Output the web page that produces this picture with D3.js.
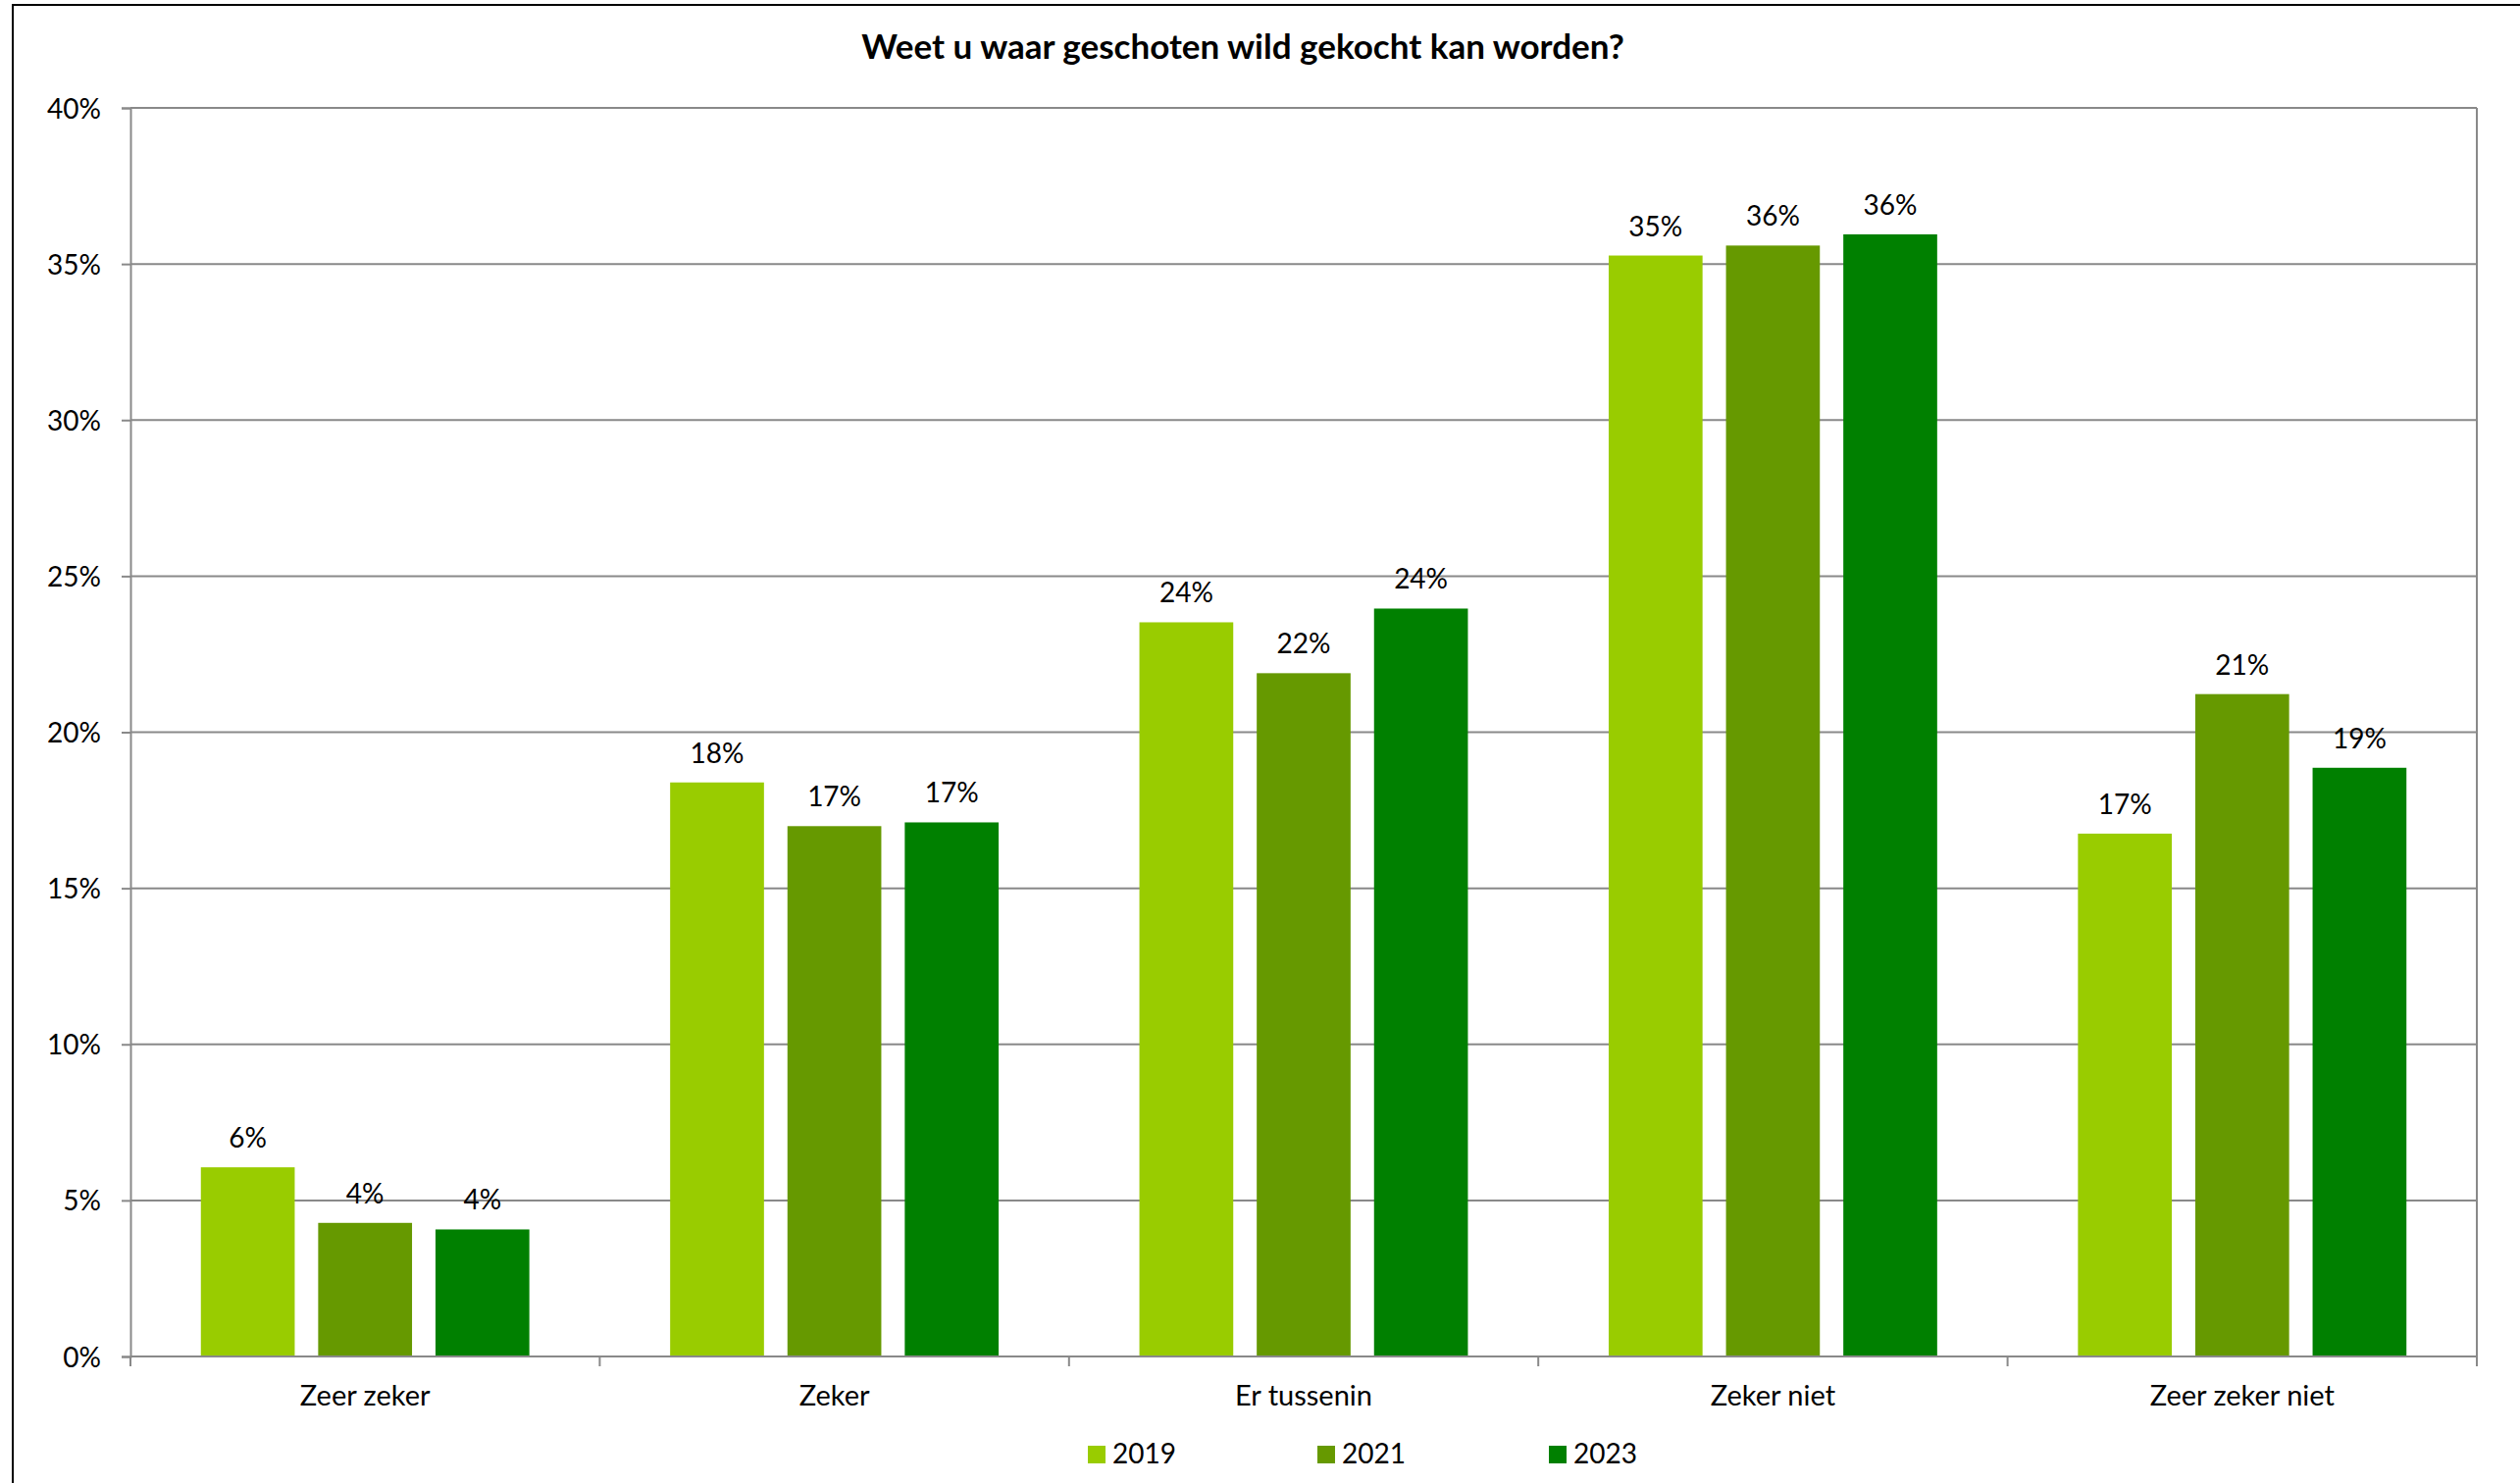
<!DOCTYPE html>
<html>
<head>
<meta charset="utf-8">
<script src="https://cdn.jsdelivr.net/npm/d3@7"></script>
<style>
  html, body { margin: 0; padding: 0; background: #fff; }
  svg { display: block; }
  text { font-family: Lato, "Open Sans", sans-serif; fill: #000; }
</style>
</head>
<body>
<svg id="chart" width="2569" height="1512"></svg>
<script>
const title = "Weet u waar geschoten wild gekocht kan worden?";
const categories = ["Zeer zeker", "Zeker", "Er tussenin", "Zeker niet", "Zeer zeker niet"];
const seriesNames = ["2019", "2021", "2023"];
const values2019 = [6.06, 18.39, 23.52, 35.27, 16.75];
const values2021 = [4.28, 16.99, 21.89, 35.59, 21.22];
const values2023 = [4.07, 17.11, 23.96, 35.95, 18.86];
const yTicks = [0, 5, 10, 15, 20, 25, 30, 35, 40];
const colors = ["#99CC00", "#669900", "#008000"];

const series = [values2019, values2021, values2023];

const svg = d3.select("#chart");
const W = 2569, H = 1512;
const plot = { left: 133, right: 2525, top: 110, bottom: 1383 };

// outer frame
svg.append("rect").attr("x", 13).attr("y", 5).attr("width", W + 20).attr("height", H + 20)
  .attr("fill", "#fff").attr("stroke", "#000").attr("stroke-width", 2);

const x0 = d3.scaleBand().domain(categories).range([plot.left, plot.right]).paddingInner(0).paddingOuter(0);
const bw = x0.bandwidth();
const barW = bw * 0.2;
const gap = bw * 0.05;
const groupW = 3 * barW + 2 * gap;
const xs = d3.scaleBand().domain(seriesNames)
  .range([(bw - groupW) / 2, (bw + groupW) / 2]).paddingInner(gap / (barW + gap)).paddingOuter(0);

const y = d3.scaleLinear().domain([0, 40]).range([plot.bottom, plot.top]);

// gridlines
svg.append("g").selectAll("line").data(yTicks.filter(d => d > 0)).join("line")
  .attr("x1", plot.left).attr("x2", plot.right)
  .attr("y1", d => y(d)).attr("y2", d => y(d))
  .attr("stroke", "#898989").attr("stroke-width", 2);

// right border
svg.append("line").attr("x1", plot.right).attr("x2", plot.right)
  .attr("y1", plot.top).attr("y2", plot.bottom)
  .attr("stroke", "#898989").attr("stroke-width", 2);

// y axis
const yAxis = d3.axisLeft(y).tickValues(yTicks).tickFormat(d => d + "%").tickSize(9).tickPadding(21);
const gy = svg.append("g").attr("transform", `translate(${plot.left},0)`).call(yAxis);
gy.select(".domain").attr("stroke", "#898989").attr("stroke-width", 2);
gy.selectAll(".tick line").attr("stroke", "#898989").attr("stroke-width", 2);
gy.selectAll(".tick text").style("font-size", "28px").style("font-family", "Lato").attr("fill", "#000")
  .attr("dy", "0.36em");

// bars
const groups = svg.append("g").selectAll("g").data(categories).join("g")
  .attr("transform", d => `translate(${x0(d)},0)`);

groups.selectAll("rect").data((c, i) => seriesNames.map((s, j) => ({ s, j, v: series[j][i] }))).join("rect")
  .attr("x", d => xs(d.s)).attr("width", xs.bandwidth())
  .attr("y", d => y(d.v)).attr("height", d => y(0) - y(d.v))
  .attr("fill", d => colors[d.j]);

groups.selectAll("text").data((c, i) => seriesNames.map((s, j) => ({ s, j, v: series[j][i] }))).join("text")
  .attr("x", d => xs(d.s) + xs.bandwidth() / 2)
  .attr("y", d => y(d.v) - 20)
  .attr("text-anchor", "middle")
  .style("font-size", "28px")
  .text(d => Math.round(d.v) + "%");

// x axis
const gx = svg.append("g").attr("transform", `translate(0,${plot.bottom})`);
gx.append("line").attr("x1", plot.left).attr("x2", plot.right).attr("y1", 0).attr("y2", 0)
  .attr("stroke", "#898989").attr("stroke-width", 2);
const boundaries = categories.map(c => x0(c)).concat([plot.right]);
gx.selectAll("line.t").data(boundaries).join("line").attr("class", "t")
  .attr("x1", d => d).attr("x2", d => d).attr("y1", 0).attr("y2", 10)
  .attr("stroke", "#898989").attr("stroke-width", 2);
gx.selectAll("text").data(categories).join("text")
  .attr("x", d => x0(d) + bw / 2).attr("y", 50)
  .attr("text-anchor", "middle").style("font-size", "29px")
  .text(d => d);

// title
svg.append("text").attr("x", 1267).attr("y", 60).attr("text-anchor", "middle")
  .style("font-size", "35px").style("font-weight", "bold").text(title);

// legend
const legendX = [1109, 1343, 1579];
const lg = svg.append("g").selectAll("g").data(seriesNames).join("g")
  .attr("transform", (d, i) => `translate(${legendX[i]},1474)`);
lg.append("rect").attr("width", 18).attr("height", 18).attr("fill", (d, i) => colors[i]);
lg.append("text").attr("x", 25).attr("y", 18).style("font-size", "28px").text(d => d);
</script>
</body>
</html>
